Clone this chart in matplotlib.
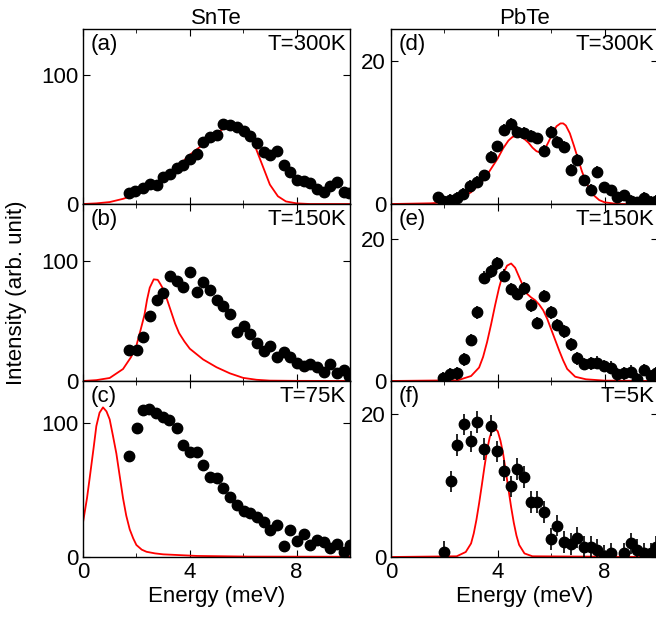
import matplotlib
matplotlib.use("Agg")
import matplotlib.pyplot as plt
from matplotlib.ticker import MultipleLocator

plt.rcParams['font.family'] = ['Liberation Sans', 'DejaVu Sans']

# ---- data: SnTe ----
a_E = [1.73,1.94,2.23,2.51,2.76,3.01,3.26,3.51,3.76,4.01,4.26,4.51,4.76,5.01,5.26,5.51,5.76,6.02,6.27,6.52,6.77,7.02,7.27,7.52,7.77,8.02,8.27,8.52,8.77,9.02,9.27,9.52,9.77,9.96]
a_I = [8.4,10.4,12.2,15.3,14.8,20.6,23.2,27.5,30,35.1,38.9,47.8,51.7,53.4,61.8,61.3,59.8,56.7,52.2,47.1,40.2,37.7,41,30,24.9,18.6,18.1,16,11.5,9,13.7,16.8,9,8.4]
a_fitE = [0,0.5,1,1.5,2,2.5,3,3.5,4,4.5,5,5.5,5.8,6.1,6.4,6.7,7.0,7.3,7.6,8,8.5,10]
a_fitI = [0,0.5,1.5,4,7.5,12.5,19,28,38,46,55,61,61,57,47,31,15,6,2,0.5,0,0]

b_E = [1.73,2.01,2.26,2.51,2.76,3.01,3.26,3.51,3.76,4.01,4.26,4.51,4.76,5.01,5.26,5.51,5.76,6.02,6.27,6.52,6.77,7.02,7.27,7.52,7.77,8.02,8.27,8.52,8.77,9.02,9.27,9.52,9.77,9.96]
b_I = [25.6,25.6,36.4,54.6,67.4,73.6,87.9,83.3,79,91,74.4,82.8,76.4,67.9,62.3,55.9,41,46.2,39,32,24.9,29,19.7,24.4,19.7,15.4,12.8,14.6,11.5,7.2,14.6,6.9,9,3.8]
b_fitE = [0,0.5,1.0,1.5,1.8,2.0,2.15,2.3,2.4,2.5,2.65,2.8,2.9,3.0,3.15,3.3,3.45,3.6,3.8,4.0,4.5,5.0,5.5,6.0,6.5,7.0,8,10]
b_fitI = [0,0.7,2.5,10,20,29.5,42,55,68,78,85,84.6,81,77,68,58,48,40,33,27,18,11.5,6.4,2.6,1,0.3,0.1,0]

c_E = [1.73,2.01,2.23,2.48,2.73,2.98,3.23,3.51,3.76,4.01,4.26,4.51,4.76,5.01,5.26,5.51,5.76,6.02,6.27,6.52,6.77,7.02,7.27,7.52,7.77,8.02,8.27,8.52,8.77,9.02,9.27,9.52,9.77,10.0]
c_I = [75.7,96.4,110,111,107.5,105,102.3,96.4,84,78.8,78.8,68.5,60.2,58.9,51.7,45.2,39.3,34.4,32.8,29.7,26.4,20.2,24,8.3,20.2,12.1,17.3,9,12.9,10.9,6.5,9.8,3.9,9]
c_fitE = [0,0.15,0.25,0.4,0.5,0.62,0.75,0.88,1.0,1.12,1.25,1.38,1.5,1.62,1.75,1.88,2.0,2.2,2.38,2.7,3.0,4.26,6.2,10]
c_fitI = [25.8,44,59,82,98,108,112,109,103,91,77.5,60,44,31,20.7,14,9,5.5,3.9,2.7,2,0.8,0.3,0.2]

# ---- data: PbTe ----
d_E = [1.75,1.96,2.21,2.46,2.71,2.96,3.23,3.48,3.73,3.98,4.23,4.48,4.73,4.98,5.23,5.48,5.73,5.98,6.23,6.48,6.73,6.98,7.23,7.48,7.73,7.98,8.23,8.48,8.73,8.98,9.23,9.48,9.73,9.93]
d_I = [0.94,0.47,0.56,0.85,1.41,2.59,3.06,4,6.6,8.1,10.4,11.2,10.1,10.0,9.6,9.2,7.5,10.1,8.7,8.0,4.8,6.2,3.3,2.0,4.5,2.35,1.9,0.94,1.2,0.4,0.24,0.85,0.33,0.47]
d_fitE = [0,1.5,2.0,2.5,3.0,3.5,4.0,4.2,4.4,4.55,4.7,4.85,5.0,5.15,5.3,5.45,5.6,5.75,5.9,6.05,6.2,6.35,6.45,6.55,6.7,6.85,7.0,7.15,7.3,7.45,7.6,7.8,8.0,8.5,10]
d_fitI = [0,0.1,0.24,0.6,1.65,3.5,6.4,7.8,8.9,9.4,9.6,9.5,9.1,8.6,7.9,7.4,7.2,7.6,8.7,9.9,10.9,11.3,11.3,11.0,9.9,8.2,6.4,4.6,3.1,2.0,1.2,0.55,0.24,0,0]

e_E = [1.96,2.21,2.46,2.73,2.98,3.23,3.48,3.73,3.98,4.23,4.48,4.73,4.98,5.23,5.48,5.73,5.98,6.23,6.48,6.73,6.98,7.23,7.48,7.73,7.98,8.23,8.48,8.73,8.98,9.23,9.48,9.73,9.93]
e_I = [0.38,0.95,1.1,3.08,5.8,9.7,14.6,15.5,16.6,14.9,13,12.3,13.1,10.7,8.2,12,9.7,7.9,7.0,5.2,3.2,2.4,2.5,2.6,2.1,1.9,0.95,1.1,1.3,0.24,1.56,0.7,1.1]
e_fitE = [0,2.5,3.0,3.3,3.45,3.6,3.75,3.9,4.05,4.2,4.35,4.5,4.65,4.8,4.95,5.1,5.25,5.4,5.55,5.7,5.85,6.0,6.15,6.3,6.45,6.6,6.9,7.3,8,10]
e_fitI = [0,0.1,0.7,1.9,3.4,5.5,8.0,10.7,13.2,15.2,16.3,16.6,16.0,14.7,13.4,12.3,11.8,11.4,10.8,10,8.8,7.3,5.8,4.3,2.9,1.7,0.6,0.24,0.05,0]

f_E = [1.99,2.23,2.48,2.73,2.98,3.23,3.48,3.73,3.98,4.23,4.48,4.73,4.98,5.23,5.48,5.73,5.98,6.23,6.48,6.73,6.98,7.23,7.48,7.73,7.98,8.23,8.73,8.98,9.23,9.48,9.73,9.93]
f_I = [0.7,10.6,15.7,18.6,16.2,18.9,15.1,18.4,14.8,12.1,9.9,12.3,11.2,7.7,7.7,6.3,2.5,4.4,2.1,1.8,2.7,1.4,1.4,1.0,0.14,0.5,0.5,1.9,1.0,0.5,0.5,1.4]
f_fitE = [0,2.46,2.8,3.0,3.1,3.2,3.3,3.4,3.5,3.6,3.7,3.8,3.9,4.0,4.1,4.2,4.3,4.4,4.5,4.6,4.7,4.8,5.0,5.3,10]
f_fitI = [0,0.1,0.7,1.9,3.3,5.2,7.5,10,12.6,15,16.8,17.8,18,17.6,16.3,14.5,12.0,9.5,7.0,4.8,3.0,1.7,0.5,0.1,0]

panels = [
    ("(a)", "T=300K", a_E, a_I, a_fitE, a_fitI, 2.0, 135),
    ("(b)", "T=150K", b_E, b_I, b_fitE, b_fitI, 3.0, 148),
    ("(c)", "T=75K", c_E, c_I, c_fitE, c_fitI, 3.0, 132),
    ("(d)", "T=300K", d_E, d_I, d_fitE, d_fitI, 0.8, 24.5),
    ("(e)", "T=150K", e_E, e_I, e_fitE, e_fitI, 0.9, 25.0),
    ("(f)", "T=5K", f_E, f_I, f_fitE, f_fitI, 1.5, 24.7),
]

fig = plt.figure(figsize=(6.56, 6.22), dpi=100)
lefts = [0.1265, 0.596]
rows = [(0.672, 0.281), (0.3875, 0.2845), (0.1045, 0.2835)]
FS = 16
for i, (lab, temp, E, I, fE, fI, err, ytop) in enumerate(panels):
    col, row = divmod(i, 3)
    b, h = rows[row]
    ax = fig.add_axes([lefts[col], b, 0.407, h])
    ax.errorbar(E, I, yerr=[err]*len(E), fmt='o', color='black', ms=7.5,
                elinewidth=1.2, capsize=0, zorder=3)
    ax.plot(fE, fI, color='red', lw=1.3, zorder=2)
    ax.set_xlim(0, 10)
    ax.set_ylim(0, ytop)
    ax.xaxis.set_major_locator(MultipleLocator(4))
    ax.xaxis.set_minor_locator(MultipleLocator(2))
    ax.yaxis.set_major_locator(MultipleLocator(100 if col == 0 else 20))
    ax.tick_params(which='both', direction='in', top=True, right=True, labelsize=FS)
    ax.tick_params(which='major', length=5)
    ax.tick_params(which='minor', length=3)
    if row < 2:
        ax.tick_params(labelbottom=False)
    else:
        ax.set_xlabel("Energy (meV)", fontsize=FS, labelpad=2)
    ax.text(0.03, 0.97, lab, transform=ax.transAxes, ha='left', va='top', fontsize=FS)
    ax.text(0.985, 0.97, temp, transform=ax.transAxes, ha='right', va='top', fontsize=FS)
    if row == 0:
        ax.set_title("SnTe" if col == 0 else "PbTe", fontsize=FS, pad=3)
    for s in ax.spines.values():
        s.set_linewidth(1.0)

fig.text(0.025, 0.53, "Intensity (arb. unit)", rotation=90, va='center', ha='center', fontsize=FS)
fig.savefig("out.png", dpi=100)
